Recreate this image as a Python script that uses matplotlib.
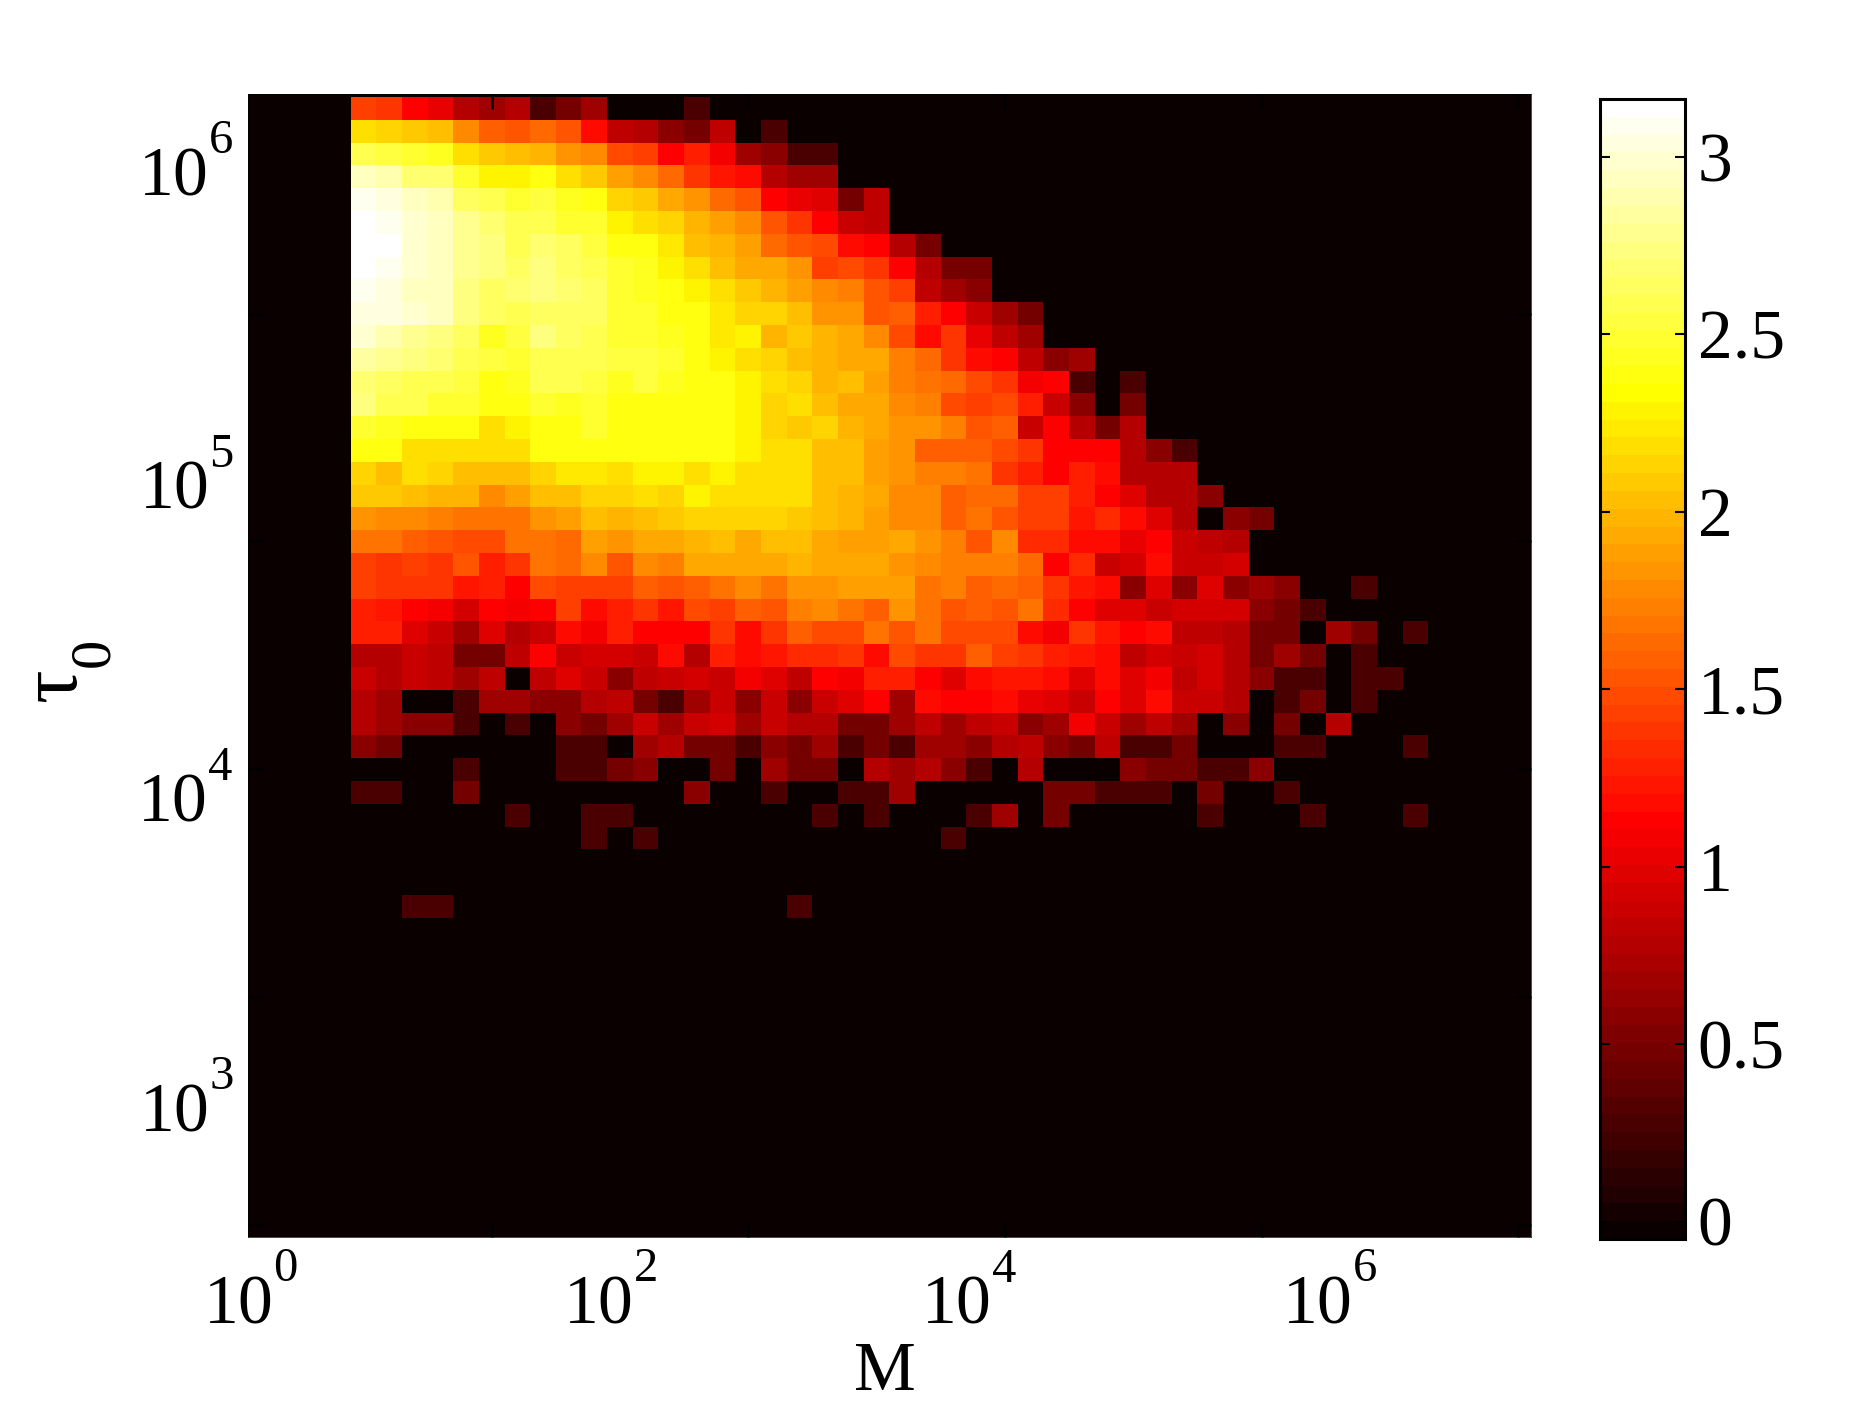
import numpy as np
import matplotlib
matplotlib.use('Agg')
import matplotlib.pyplot as plt
from matplotlib import _mathtext

plt.rcParams['font.family'] = ['Liberation Serif', 'DejaVu Serif']
plt.rcParams['mathtext.fontset'] = 'custom'
plt.rcParams['mathtext.rm'] = 'Liberation Serif'
plt.rcParams['mathtext.it'] = 'Liberation Serif'
plt.rcParams['mathtext.bf'] = 'Liberation Serif:bold'

# exponents sit much higher here than the matplotlib default
_mathtext.FontConstantsBase.sup1 = 1.3
_mathtext.FontConstantsBase.sub1 = 0.9
_mathtext.FontConstantsBase.script_space = 0.0

# log10 of counts, one list per tau bin from the top, starting at M bin 5
row_01 = [1.43, 1.36, 1.11, 1.04, 0.80, 0.70, 0.78, 0.30, 0.48, 0.70, 0, 0, 0, 0.30]
row_02 = [2.18, 2.13, 2.08, 2.04, 1.80, 1.60, 1.55, 1.64, 1.53, 1.20, 0.85, 0.80, 0.60, 0.48, 0.85, 0, 0.30]
row_03 = [2.59, 2.55, 2.50, 2.45, 2.20, 2.08, 2.04, 1.97, 1.81, 1.80, 1.48, 1.41, 1.15, 1.26, 1.08, 0.70, 0.60, 0.30, 0.30]
row_04 = [2.96, 2.88, 2.70, 2.67, 2.50, 2.28, 2.28, 2.36, 2.18, 2.08, 1.89, 1.80, 1.62, 1.40, 1.23, 1.20, 0.80, 0.70, 0.70]
row_05 = [3.09, 3.03, 2.93, 2.88, 2.65, 2.57, 2.50, 2.52, 2.43, 2.38, 2.14, 2.08, 1.93, 1.83, 1.64, 1.51, 1.15, 1.04, 1.00,
          0.48, 0.85]
row_06 = [3.16, 3.09, 2.98, 2.93, 2.78, 2.70, 2.57, 2.60, 2.50, 2.48, 2.28, 2.20, 2.12, 1.97, 1.86, 1.80, 1.51, 1.36, 1.11,
          0.90, 0.85]
row_07 = [3.16, 3.16, 3.00, 2.96, 2.78, 2.72, 2.57, 2.67, 2.62, 2.52, 2.38, 2.36, 2.24, 2.04, 1.97, 1.86, 1.64, 1.51, 1.48,
          1.20, 1.15, 0.78, 0.48]
row_08 = [3.16, 3.09, 2.98, 2.93, 2.78, 2.72, 2.62, 2.72, 2.62, 2.57, 2.50, 2.45, 2.30, 2.18, 2.04, 1.93, 1.93, 1.81, 1.45,
          1.48, 1.36, 1.11, 0.78, 0.48, 0.48]
row_09 = [3.09, 3.03, 2.96, 2.93, 2.72, 2.62, 2.67, 2.72, 2.67, 2.62, 2.48, 2.45, 2.38, 2.28, 2.18, 2.08, 2.00, 1.89, 1.78,
          1.75, 1.53, 1.45, 0.85, 0.70, 0.60]
row_10 = [3.03, 3.03, 2.98, 2.93, 2.72, 2.65, 2.60, 2.62, 2.62, 2.65, 2.50, 2.48, 2.38, 2.36, 2.24, 2.14, 2.14, 2.02, 1.83,
          1.83, 1.53, 1.60, 1.28, 1.11, 0.90, 0.70, 0.48]
row_11 = [2.98, 2.90, 2.78, 2.72, 2.65, 2.45, 2.55, 2.72, 2.65, 2.60, 2.50, 2.50, 2.43, 2.38, 2.22, 2.30, 2.00, 2.06, 1.97,
          1.93, 1.76, 1.50, 1.20, 1.36, 1.04, 0.85, 0.70]
row_12 = [2.85, 2.78, 2.72, 2.67, 2.60, 2.52, 2.50, 2.60, 2.60, 2.57, 2.55, 2.52, 2.48, 2.38, 2.28, 2.18, 2.14, 2.04, 2.00,
          1.93, 1.93, 1.75, 1.62, 1.40, 1.18, 1.15, 0.85, 0.60, 0.70]
row_13 = [2.67, 2.62, 2.60, 2.57, 2.52, 2.40, 2.45, 2.57, 2.57, 2.55, 2.45, 2.52, 2.43, 2.36, 2.36, 2.28, 2.18, 2.14, 2.00,
          2.02, 1.89, 1.75, 1.70, 1.64, 1.50, 1.36, 1.08, 1.15, 0.30, 0, 0.30]
row_14 = [2.75, 2.60, 2.57, 2.50, 2.48, 2.36, 2.36, 2.50, 2.43, 2.50, 2.40, 2.40, 2.40, 2.38, 2.36, 2.28, 2.14, 2.18, 2.03,
          1.93, 1.95, 1.76, 1.72, 1.48, 1.43, 1.50, 1.26, 0.90, 0.60, 0, 0.48]
row_15 = [2.50, 2.45, 2.40, 2.38, 2.36, 2.18, 2.28, 2.40, 2.40, 2.48, 2.40, 2.40, 2.36, 2.36, 2.36, 2.28, 2.14, 2.08, 2.14,
          1.97, 1.93, 1.83, 1.83, 1.75, 1.53, 1.57, 0.90, 1.15, 0.78, 0.48, 0.78]
row_16 = [2.38, 2.36, 2.18, 2.18, 2.16, 2.16, 2.16, 2.36, 2.36, 2.36, 2.36, 2.38, 2.38, 2.38, 2.36, 2.28, 2.18, 2.18, 2.03,
          2.02, 1.89, 1.81, 1.57, 1.57, 1.57, 1.50, 1.40, 1.15, 1.15, 1.15, 0.78, 0.60, 0.30]
row_17 = [2.12, 2.04, 2.18, 2.12, 2.03, 2.03, 2.03, 2.14, 2.22, 2.22, 2.16, 2.28, 2.28, 2.18, 2.28, 2.20, 2.18, 2.18, 2.03,
          2.02, 1.89, 1.83, 1.75, 1.75, 1.66, 1.38, 1.26, 1.15, 1.28, 1.18, 0.78, 0.78, 0.78]
row_18 = [2.08, 2.08, 2.02, 1.97, 1.97, 1.78, 1.89, 2.03, 2.03, 2.12, 2.12, 2.18, 2.14, 2.26, 2.20, 2.20, 2.16, 2.16, 2.03,
          1.97, 1.93, 1.80, 1.80, 1.57, 1.64, 1.64, 1.43, 1.43, 1.28, 1.15, 1.00, 0.80, 0.80, 0.60]
row_19 = [1.85, 1.80, 1.80, 1.75, 1.66, 1.66, 1.66, 1.81, 1.89, 2.04, 1.97, 2.02, 2.10, 2.14, 2.14, 2.14, 2.14, 2.08, 2.03,
          1.97, 1.86, 1.80, 1.76, 1.60, 1.70, 1.53, 1.41, 1.41, 1.23, 1.32, 1.18, 1.00, 0.78, 0, 0.60, 0.48]
row_20 = [1.70, 1.70, 1.60, 1.55, 1.48, 1.48, 1.66, 1.70, 1.62, 1.89, 1.81, 1.93, 1.93, 1.97, 2.02, 1.95, 2.02, 2.02, 1.95,
          1.86, 1.89, 1.93, 1.81, 1.72, 1.53, 1.78, 1.32, 1.32, 1.18, 1.18, 1.04, 1.11, 0.90, 0.85, 0.80]
row_21 = [1.43, 1.38, 1.43, 1.38, 1.53, 1.26, 1.38, 1.66, 1.62, 1.76, 1.51, 1.80, 1.72, 1.93, 1.93, 1.93, 1.93, 2.00, 1.93,
          1.93, 1.93, 1.85, 1.80, 1.72, 1.72, 1.72, 1.64, 1.15, 1.32, 0.90, 0.95, 1.18, 0.90, 0.90, 0.95]
row_22 = [1.43, 1.38, 1.36, 1.36, 1.23, 1.26, 1.15, 1.48, 1.43, 1.45, 1.45, 1.60, 1.51, 1.60, 1.66, 1.80, 1.66, 1.85, 1.85,
          1.86, 1.89, 1.89, 1.70, 1.72, 1.57, 1.62, 1.57, 1.40, 1.23, 1.18, 0.60, 1.00, 0.60, 1.00, 0.60, 0.70, 0.60, 0, 0, 0.30]
row_23 = [1.28, 1.23, 1.15, 1.08, 0.95, 1.11, 1.08, 1.11, 1.41, 1.18, 1.26, 1.38, 1.23, 1.50, 1.43, 1.57, 1.51, 1.72, 1.78,
          1.66, 1.60, 1.81, 1.70, 1.53, 1.60, 1.51, 1.66, 1.32, 1.11, 1.00, 1.00, 0.90, 0.95, 0.95, 0.95, 0.60, 0.48, 0.30]
row_24 = [1.26, 1.26, 0.98, 0.90, 0.70, 1.00, 0.78, 0.90, 1.20, 1.08, 1.28, 1.11, 1.15, 1.15, 1.38, 1.20, 1.40, 1.57, 1.50,
          1.48, 1.70, 1.55, 1.70, 1.50, 1.50, 1.48, 1.18, 1.08, 1.36, 1.23, 1.15, 1.18, 0.85, 0.85, 0.80, 0.48, 0.48, 0, 0.70, 0.48, 0, 0.30]
row_25 = [0.80, 0.78, 0.90, 0.85, 0.48, 0.48, 0.85, 1.15, 0.90, 0.95, 0.95, 0.90, 1.18, 0.80, 1.28, 1.20, 1.23, 1.34, 1.34,
          1.38, 1.20, 1.48, 1.40, 1.40, 1.57, 1.43, 1.38, 1.28, 1.23, 1.20, 0.85, 0.95, 0.90, 0.95, 0.78, 0.48, 0.70, 0.48, 0, 0.30]
row_26 = [0.90, 0.80, 0.90, 0.85, 0.70, 0.85, 0, 0.85, 0.98, 0.90, 0.60, 0.85, 0.90, 0.95, 0.90, 1.08, 1.00, 0.85, 1.15,
          1.08, 1.28, 1.28, 1.11, 1.00, 1.18, 1.23, 1.23, 1.18, 1.00, 1.18, 1.00, 1.08, 0.85, 0.95, 0.78, 0.60, 0.30, 0.30, 0, 0.30, 0.30]
row_27 = [0.78, 0.70, 0, 0, 0.30, 0.70, 0.70, 0.60, 0.60, 0.78, 0.85, 0.48, 0.30, 0.70, 0.90, 0.60, 0.90, 0.60, 0.90,
          1.00, 1.15, 0.70, 1.18, 1.11, 1.15, 1.18, 1.04, 1.00, 0.90, 1.15, 1.00, 1.20, 0.90, 0.90, 0.78, 0, 0.30, 0.48, 0, 0.30]
row_28 = [0.80, 0.70, 0.60, 0.60, 0.30, 0, 0.30, 0, 0.60, 0.48, 0.70, 0.90, 0.70, 0.90, 0.95, 0.70, 0.90, 0.78, 0.78,
          0.48, 0.48, 0.70, 0.85, 0.70, 0.85, 0.90, 0.60, 0.70, 1.08, 0.90, 0.70, 0.85, 0.70, 0, 0.60, 0, 0.48, 0, 0.80]
row_29 = [0.60, 0.48, 0, 0, 0, 0, 0, 0, 0.30, 0.30, 0, 0.70, 0.78, 0.48, 0.48, 0.30, 0.60, 0.48, 0.70,
          0.30, 0.48, 0.30, 0.70, 0.70, 0.60, 0.78, 0.85, 0.60, 0.48, 0.85, 0.30, 0.30, 0.48, 0, 0, 0, 0.30, 0.30, 0, 0, 0, 0.30]
row_30 = [0, 0, 0, 0, 0.30, 0, 0, 0, 0.30, 0.30, 0.48, 0.60, 0, 0, 0.48, 0, 0.70, 0.48, 0.48,
          0, 0.78, 0.70, 0.80, 0.60, 0.30, 0, 0.80, 0, 0, 0, 0.60, 0.48, 0.48, 0.30, 0.30, 0.60]
row_31 = [0.30, 0.30, 0, 0, 0.48, 0, 0, 0, 0, 0, 0, 0, 0, 0.60, 0, 0, 0.30, 0, 0,
          0.30, 0.30, 0.70, 0, 0, 0, 0, 0, 0.48, 0.48, 0.30, 0.30, 0.30, 0, 0.48, 0, 0, 0.30]
row_32 = [0, 0, 0, 0, 0, 0, 0.30, 0, 0, 0.30, 0.30, 0, 0, 0, 0, 0, 0, 0, 0.30,
          0, 0.30, 0, 0, 0, 0.30, 0.70, 0, 0.48, 0, 0, 0, 0, 0, 0.30, 0, 0, 0, 0.30, 0, 0, 0, 0.30]
row_33 = [0, 0, 0, 0, 0, 0, 0, 0, 0, 0.30, 0, 0.30, 0, 0, 0, 0, 0, 0, 0,
          0, 0, 0, 0, 0.30]
row_34 = []
row_35 = []
row_36 = [0, 0, 0.30, 0.30, 0, 0, 0, 0, 0, 0, 0, 0, 0, 0, 0, 0, 0, 0.30]

all_rows = [row_01, row_02, row_03, row_04, row_05, row_06, row_07, row_08, row_09,
            row_10, row_11, row_12, row_13, row_14, row_15, row_16, row_17, row_18,
            row_19, row_20, row_21, row_22, row_23, row_24, row_25, row_26, row_27,
            row_28, row_29, row_30, row_31, row_32, row_33, row_34, row_35, row_36]

x_labels = ['$\\mathregular{10^{0}}$', '$\\mathregular{10^{2}}$', '$\\mathregular{10^{4}}$', '$\\mathregular{10^{6}}$']
y_labels = ['$\\mathregular{10^{6}}$', '$\\mathregular{10^{5}}$', '$\\mathregular{10^{4}}$', '$\\mathregular{10^{3}}$']
bar_ticks = [0, 0.5, 1, 1.5, 2, 2.5, 3]
bar_labels = ['0', '0.5', '1', '1.5', '2', '2.5', '3']

# fill the 50x50 image, everything outside the lists stays at zero
grid = np.zeros((50, 50))
for i, row in enumerate(all_rows):
    grid[i, 4:4 + len(row)] = row

W, H = 1871, 1408
fig = plt.figure(figsize=(W / 100, H / 100), dpi=100)
ax = fig.add_axes([248 / W, 1 - 1236.7 / H, 1283 / W, (1236.7 - 94) / H])
cax = fig.add_axes([1600 / W, 1 - 1239 / H, 85 / W, (1239 - 99) / H])

cmap = plt.get_cmap('hot', 64)
im = ax.imshow(grid, cmap=cmap, vmin=-0.049, vmax=3.163, aspect='auto', interpolation='nearest',
               extent=(0.5, 50.5, 50.5, 0.5))
ax.set_xlim(0.5, 50.5)
ax.set_ylim(50.5, 0.37)
ax.set_facecolor(cmap(0))

ax.set_xticks([10, 20, 30, 40, 50])
ax.set_yticks([10, 20, 30, 40, 50])
ax.set_xticklabels([])
ax.set_yticklabels([])
ax.tick_params(direction='in', length=10.5, width=1.8, top=True, right=True, color='black')
for s in ax.spines.values():
    s.set_linewidth(0.5)

# the decade labels sit at their own positions, not at the image ticks
for col, lab in zip([0.58, 14.6, 28.6, 42.65], x_labels):
    ax.text(col, 54.32, lab, fontsize=50, ha='center', va='baseline', clip_on=False)
for r, lab in zip([4.84, 18.57, 32.27, 45.9], y_labels):
    ax.text(-0.08, r, lab, fontsize=50, ha='right', va='baseline', clip_on=False)

fig.text(885 / W, 1 - 1390 / H, 'M', fontsize=50, ha='center', va='baseline')
fig.text(76 / W, 1 - 672 / H, '$\\mathregular{\\tau_{0}}$', fontsize=60, rotation=90,
         rotation_mode='anchor', ha='center', va='baseline')

cb = fig.colorbar(im, cax=cax)
cb.set_ticks(bar_ticks)
cb.set_ticklabels(bar_labels)
cax.tick_params(direction='in', length=7, width=1.5, left=True, right=True, labelsize=50, pad=9)
cb.outline.set_linewidth(2.2)
cb.minorticks_off()

fig.savefig('out.png', dpi=100)
